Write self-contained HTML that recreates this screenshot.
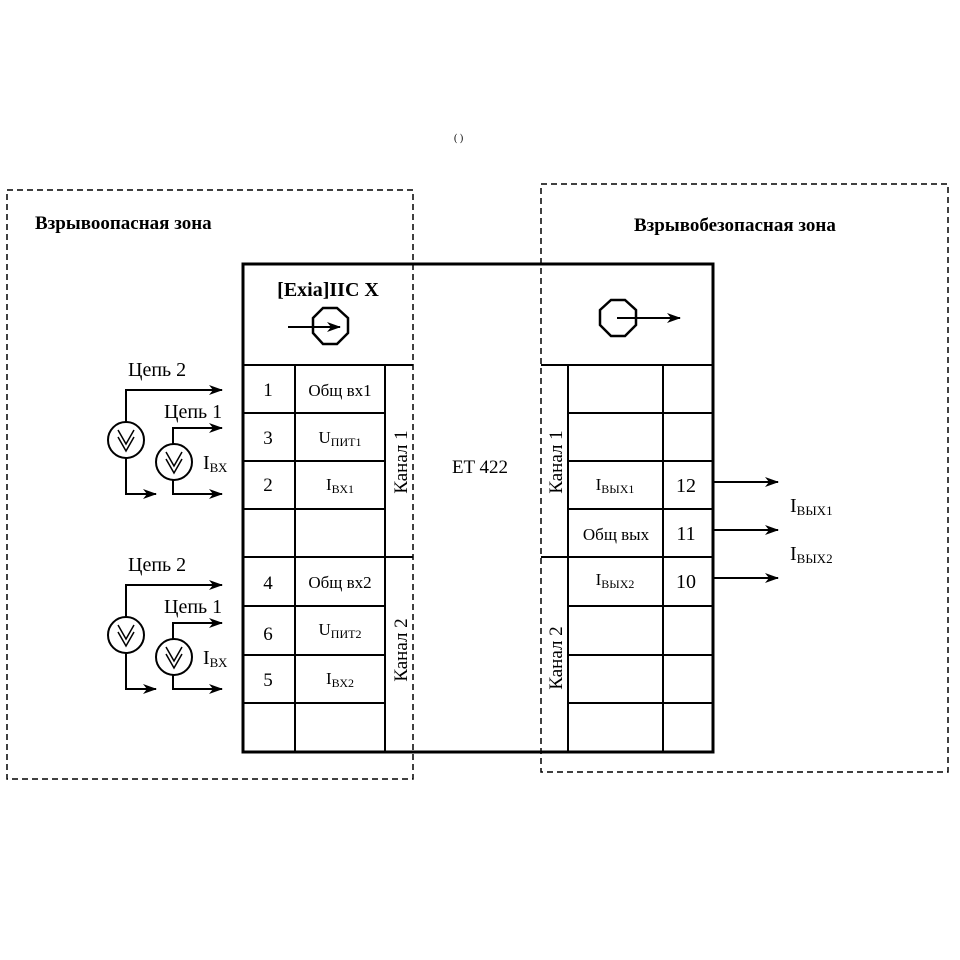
<!DOCTYPE html>
<html><head><meta charset="utf-8"><style>
html,body{margin:0;padding:0;background:#fff;}
svg{display:block;}
text{font-family:"Liberation Serif",serif;fill:#000;}
</style></head><body>
<svg width="960" height="960" viewBox="0 0 960 960" xmlns="http://www.w3.org/2000/svg">
<defs>
<marker id="ar" markerWidth="14" markerHeight="10" refX="13" refY="5" orient="auto" markerUnits="userSpaceOnUse">
<path d="M0,0 L14,5 L0,10 L4,5 Z" fill="#000"/>
</marker>
<g id="src">
<circle cx="0" cy="0" r="18" fill="none" stroke="#000" stroke-width="2"/>
<path d="M-8,-10 L0,4 L8,-10 M-8,-3 L0,11 L8,-3" fill="none" stroke="#000" stroke-width="1.5"/>
</g>
</defs>
<rect x="7" y="190" width="406" height="589" fill="none" stroke="#000" stroke-width="1.5" stroke-dasharray="6,4"/>
<rect x="541" y="184" width="407" height="588" fill="none" stroke="#000" stroke-width="1.5" stroke-dasharray="6,4"/>
<text x="35" y="229" font-size="19" font-weight="bold">Взрывоопасная зона</text>
<text x="634" y="231" font-size="19" font-weight="bold">Взрывобезопасная зона</text>
<text x="454" y="141" font-size="10">( )</text>
<rect x="243" y="264" width="470" height="488" fill="none" stroke="#000" stroke-width="3"/>
<text x="328" y="296" font-size="20" font-weight="bold" text-anchor="middle">[Exia]IIC X</text>
<polygon points="323,308 337,308 348,318 348,333 337,344 323,344 313,333 313,318" fill="none" stroke="#000" stroke-width="2.5"/>
<line x1="288" y1="327" x2="340" y2="327" stroke="#000" stroke-width="2" marker-end="url(#ar)"/>
<polygon points="611,300 625,300 636,310 636,325 625,336 611,336 600,325 600,310" fill="none" stroke="#000" stroke-width="2.5"/>
<line x1="617" y1="318" x2="680" y2="318" stroke="#000" stroke-width="2" marker-end="url(#ar)"/>
<text x="480" y="473" font-size="19" text-anchor="middle" font-family="Liberation Sans, sans-serif">ET 422</text>
<g stroke="#000" stroke-width="2">
<line x1="243" y1="365" x2="413" y2="365"/>
<line x1="243" y1="413" x2="385" y2="413"/>
<line x1="243" y1="461" x2="385" y2="461"/>
<line x1="243" y1="509" x2="385" y2="509"/>
<line x1="243" y1="557" x2="413" y2="557"/>
<line x1="243" y1="606" x2="385" y2="606"/>
<line x1="243" y1="655" x2="385" y2="655"/>
<line x1="243" y1="703" x2="385" y2="703"/>
<line x1="295" y1="365" x2="295" y2="752"/>
<line x1="385" y1="365" x2="385" y2="752"/>
</g>
<g font-size="19" text-anchor="middle">
<text x="268" y="396">1</text><text x="268" y="444">3</text><text x="268" y="491">2</text>
<text x="268" y="589">4</text><text x="268" y="640">6</text><text x="268" y="686">5</text>
</g>
<g font-size="17" text-anchor="middle">
<text x="340" y="396">Общ вх1</text>
<text x="340" y="443">U<tspan font-size="12" dy="3">ПИТ1</tspan></text>
<text x="340" y="490">I<tspan font-size="12" dy="3">ВХ1</tspan></text>
<text x="340" y="588">Общ вх2</text>
<text x="340" y="635">U<tspan font-size="12" dy="3">ПИТ2</tspan></text>
<text x="340" y="684">I<tspan font-size="12" dy="3">ВХ2</tspan></text>
</g>
<text transform="translate(407,462) rotate(-90)" font-size="19" text-anchor="middle">Канал 1</text>
<text transform="translate(407,650) rotate(-90)" font-size="19" text-anchor="middle">Канал 2</text>
<g stroke="#000" stroke-width="2">
<line x1="541" y1="365" x2="713" y2="365"/>
<line x1="568" y1="413" x2="713" y2="413"/>
<line x1="568" y1="461" x2="713" y2="461"/>
<line x1="568" y1="509" x2="713" y2="509"/>
<line x1="541" y1="557" x2="713" y2="557"/>
<line x1="568" y1="606" x2="713" y2="606"/>
<line x1="568" y1="655" x2="713" y2="655"/>
<line x1="568" y1="703" x2="713" y2="703"/>
<line x1="568" y1="365" x2="568" y2="752"/>
<line x1="663" y1="365" x2="663" y2="752"/>
</g>
<text transform="translate(562,462) rotate(-90)" font-size="19" text-anchor="middle">Канал 1</text>
<text transform="translate(562,658) rotate(-90)" font-size="19" text-anchor="middle">Канал 2</text>
<g font-size="17" text-anchor="middle">
<text x="615" y="490">I<tspan font-size="12" dy="3">ВЫХ1</tspan></text>
<text x="616" y="540">Общ вых</text>
<text x="615" y="585">I<tspan font-size="12" dy="3">ВЫХ2</tspan></text>
</g>
<g font-size="20" text-anchor="middle">
<text x="686" y="492">12</text><text x="686" y="540">11</text><text x="686" y="588">10</text>
</g>
<g stroke="#000" stroke-width="2">
<line x1="713" y1="482" x2="778" y2="482" marker-end="url(#ar)"/>
<line x1="713" y1="530" x2="778" y2="530" marker-end="url(#ar)"/>
<line x1="713" y1="578" x2="778" y2="578" marker-end="url(#ar)"/>
</g>
<text x="790" y="512" font-size="20">I<tspan font-size="13" dy="3">ВЫХ1</tspan></text>
<text x="790" y="560" font-size="20">I<tspan font-size="13" dy="3">ВЫХ2</tspan></text>
<g id="grp">
<text x="128" y="376" font-size="20">Цепь 2</text>
<text x="164" y="418" font-size="20">Цепь 1</text>
<text x="203" y="469" font-size="20">I<tspan font-size="13" dy="3">ВХ</tspan></text>
<g fill="none" stroke="#000" stroke-width="2">
<polyline points="126,422 126,390 222,390" marker-end="url(#ar)"/>
<polyline points="126,458 126,494 156,494" marker-end="url(#ar)"/>
<polyline points="173,444 173,428 222,428" marker-end="url(#ar)"/>
<polyline points="173,480 173,494 222,494" marker-end="url(#ar)"/>
</g>
<use href="#src" x="126" y="440"/>
<use href="#src" x="174" y="462"/>
</g>
<use href="#grp" x="0" y="195"/>
</svg>
</body></html>
